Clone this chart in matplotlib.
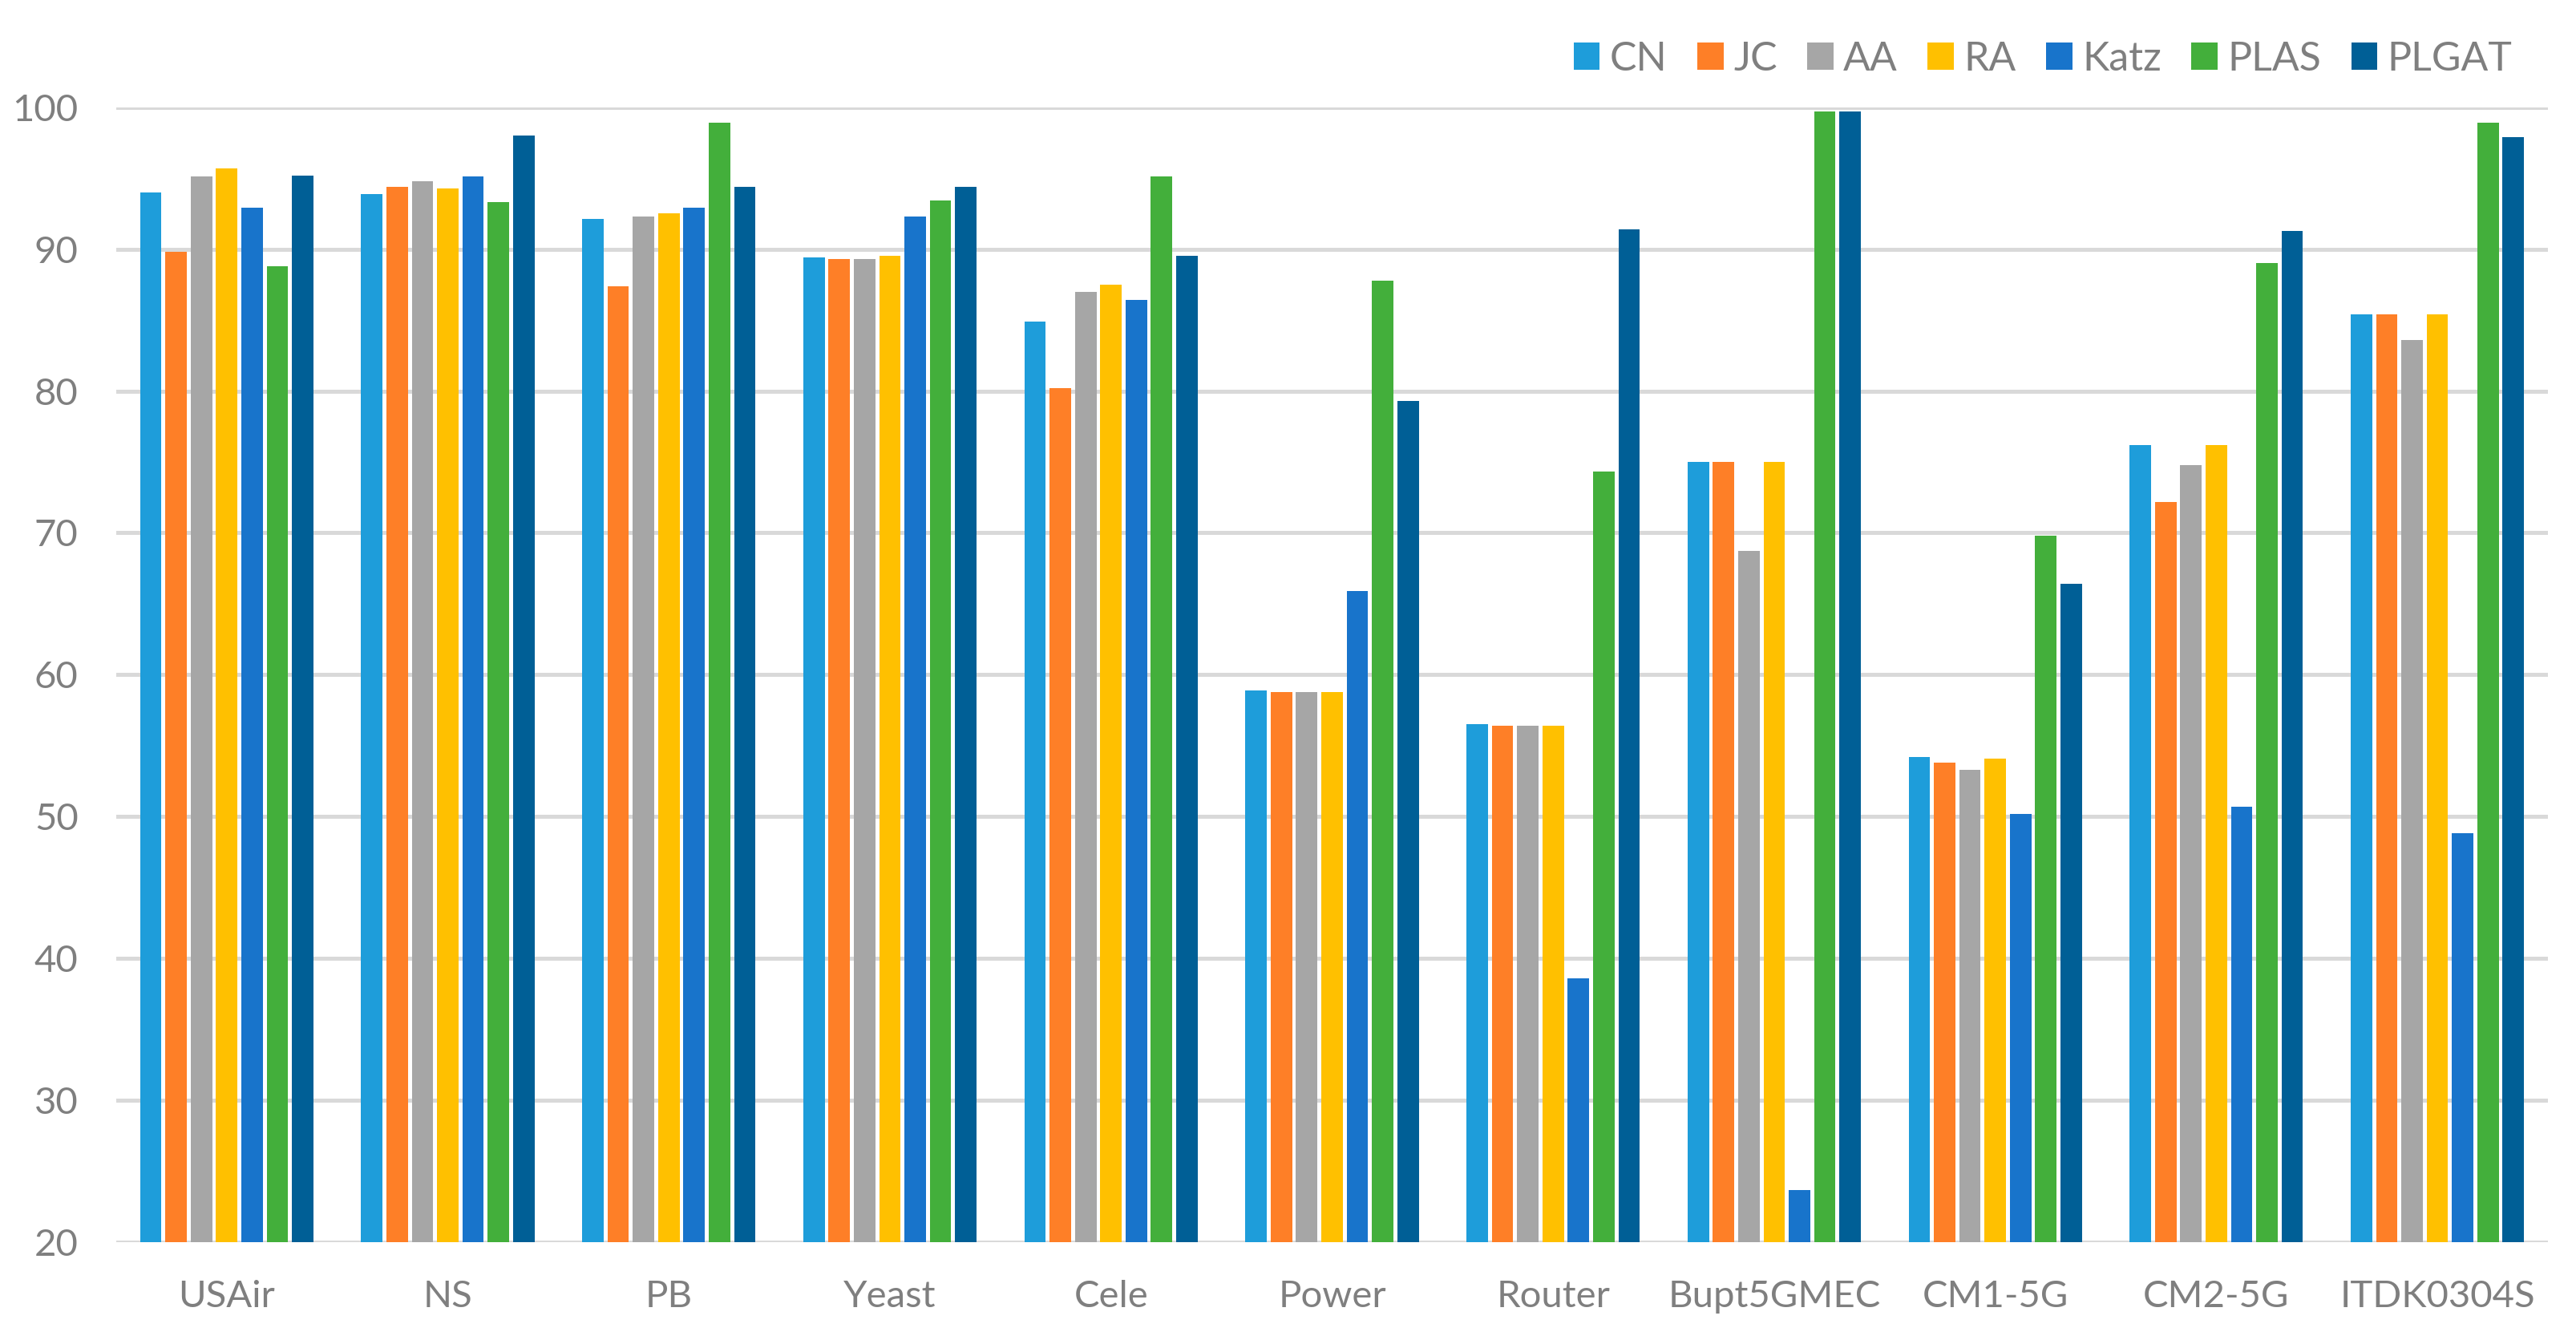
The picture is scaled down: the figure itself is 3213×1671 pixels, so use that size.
import numpy as np
import matplotlib
matplotlib.use('Agg')
import matplotlib.pyplot as plt

plt.rcParams['font.family'] = ['Lato', 'DejaVu Sans']

datasets = ['USAir', 'NS', 'PB', 'Yeast', 'Cele', 'Power', 'Router',
            'Bupt5GMEC', 'CM1-5G', 'CM2-5G', 'ITDK0304S']
methods = ['CN', 'JC', 'AA', 'RA', 'Katz', 'PLAS', 'PLGAT']

cn = [94.0, 93.9, 92.1, 89.4, 84.9, 58.9, 56.5, 75.0, 54.2, 76.2, 85.4]
jc = [89.8, 94.4, 87.4, 89.3, 80.2, 58.8, 56.4, 75.0, 53.8, 72.2, 85.4]
aa = [95.1, 94.8, 92.3, 89.3, 87.0, 58.8, 56.4, 68.7, 53.3, 74.8, 83.6]
ra = [95.7, 94.3, 92.5, 89.5, 87.5, 58.8, 56.4, 75.0, 54.1, 76.2, 85.4]
katz = [92.9, 95.1, 92.9, 92.3, 86.4, 65.9, 38.6, 23.7, 50.2, 50.7, 48.8]
plas = [88.8, 93.3, 98.9, 93.4, 95.1, 87.8, 74.3, 99.7, 69.8, 89.0, 98.9]
plgat = [95.2, 98.0, 94.4, 94.4, 89.5, 79.3, 91.4, 99.7, 66.4, 91.3, 97.9]

series = [cn, jc, aa, ra, katz, plas, plgat]
colors = ['#1E9DDA', '#FE7F27', '#A6A6A6', '#FFC000', '#1874CB', '#43AF3B', '#005F96']

fig = plt.figure(figsize=(16.065, 8.355), dpi=200)
ax = fig.add_axes([0.0451, 0.073, 0.944, 0.847])

x = np.arange(len(datasets))
step = 0.1145
width = 0.097
for i, (vals, c, name) in enumerate(zip(series, colors, methods)):
    ax.bar(x + (i - 3) * step, np.array(vals) - 20, width, bottom=20,
           color=c, label=name, zorder=3)

ax.set_xlim(-0.5, len(datasets) - 0.5)
ax.set_ylim(20, 100)
ax.set_yticks(range(20, 101, 10))
ax.set_xticks(x)
ax.set_xticklabels(datasets)
ax.yaxis.grid(True, color='#D9D9D9', linewidth=1.8, zorder=0)
ax.set_axisbelow(True)
for s in ax.spines.values():
    s.set_visible(False)
ax.tick_params(axis='both', length=0, labelsize=17, labelcolor='#7F7F7F')
ax.tick_params(axis='x', pad=17)
ax.tick_params(axis='y', pad=17)

leg = ax.legend(loc='lower right', bbox_to_anchor=(0.992, 1.012), ncol=7,
                frameon=False, fontsize=18, handlelength=0.65, handleheight=0.65,
                handletextpad=0.25, columnspacing=0.75, borderaxespad=0)
for t in leg.get_texts():
    t.set_color('#7F7F7F')

fig.savefig('out.png', dpi=200)
